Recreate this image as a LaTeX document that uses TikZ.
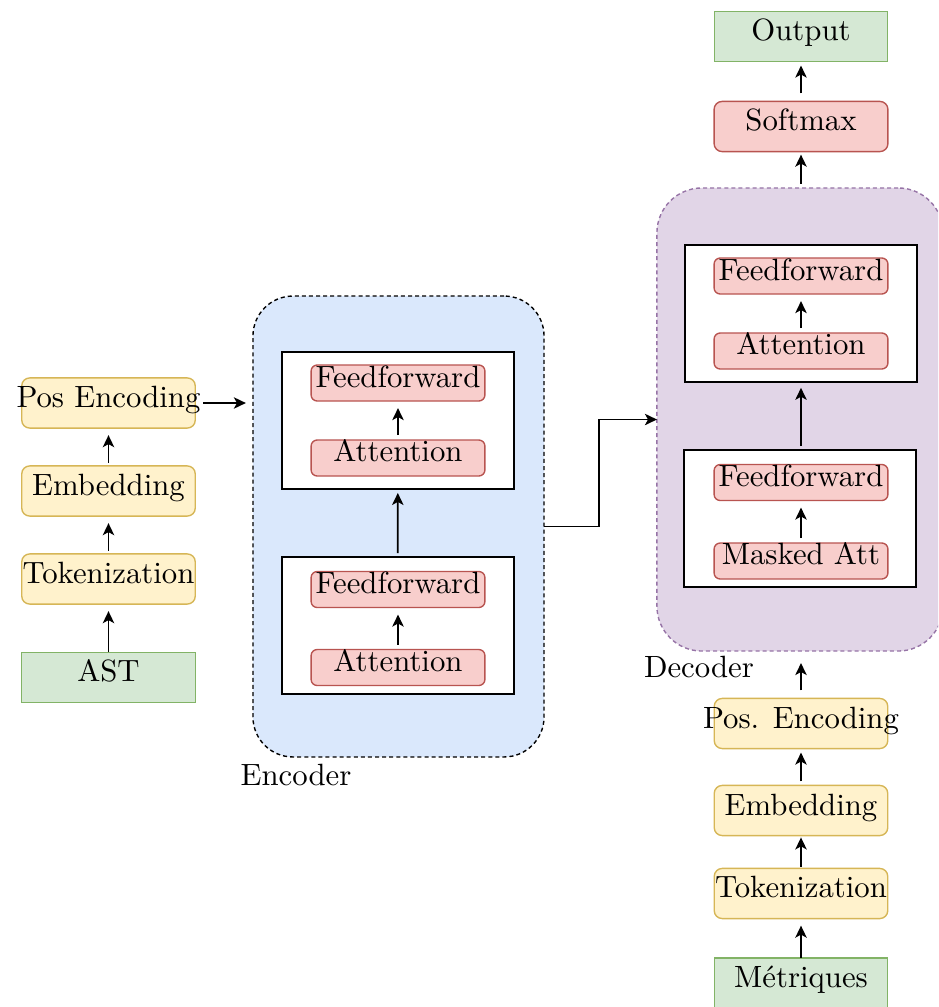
\documentclass[tikz,border=0pt]{standalone}
\usetikzlibrary{arrows.meta}
\definecolor{yfill}{HTML}{FFF2CC}\definecolor{ydraw}{HTML}{D6B656}
\definecolor{rfill}{HTML}{F8CECC}\definecolor{rdraw}{HTML}{B85450}
\definecolor{gfill}{HTML}{D5E8D4}\definecolor{gdraw}{HTML}{82B366}
\definecolor{bfill}{HTML}{DAE8FC}
\definecolor{pfill}{HTML}{E1D5E7}\definecolor{pdraw}{HTML}{9673A6}
\begin{document}
\begin{tikzpicture}[x=0.325pt,y=-0.325pt,
  base/.style={inner sep=0pt, outer sep=0pt},
  lab/.style={inner sep=0pt, anchor=base},
  ybox/.style={base, draw=ydraw, fill=yfill, line width=0.45pt, rounded corners=2.6pt, minimum width=56.4pt, minimum height=16.3pt},
  gbox/.style={base, draw=gdraw, fill=gfill, line width=0.45pt, minimum width=56.4pt, minimum height=16.3pt},
  rbox/.style={base, draw=rdraw, fill=rfill, line width=0.45pt, rounded corners=2pt, minimum width=56.5pt, minimum height=11.7pt},
  wbox/.style={base, draw=black, fill=white, line width=0.65pt, minimum width=75.4pt, minimum height=44.5pt},
  arr/.style={line width=0.6pt, -{Stealth[length=3.9pt,width=3.7pt,inset=1pt]}},
]
\useasboundingbox (0,0) rectangle (938,1007);
\clip (0,0) rectangle (938,1007);

% containers
\node[base, draw=black, fill=bfill, line width=0.45pt, dash pattern=on 1.3pt off 1pt,
  rounded corners=13pt, minimum width=94.6pt, minimum height=149.8pt] (enc) at (398.5,526.5) {};
\node[base, draw=pdraw, fill=pfill, line width=0.45pt, dash pattern=on 1.3pt off 1pt,
  rounded corners=14.6pt, minimum width=93pt, minimum height=150.5pt] (dec) at (800,419.5) {};
\node[lab] (enclab) at (296,785) {Encoder};
\node[lab] (declab) at (699,677) {Decoder};

% left column
\node[ybox] (pe) at (108.5,403) {};
\node[ybox] (em) at (108.5,491) {};
\node[ybox] (tk) at (108.5,579) {};
\node[gbox] (ast) at (108.5,677.5) {};
\node[lab] at ([yshift=-1.5pt]pe.center) {Pos Encoding};
\node[lab] at ([yshift=-1.6pt]em.center) {Embedding};
\node[lab] at ([yshift=-1.3pt]tk.center) {Tokenization};
\node[lab] at ([yshift=-1.4pt]ast.center) {AST};

% encoder blocks
\node[wbox] (eb1) at (398,420.5) {};
\node[wbox] (eb2) at (397.5,625.5) {};
\node[rbox] (eff1) at (398,383) {};
\node[rbox] (eat1) at (398,458) {};
\node[rbox] (eff2) at (398,589.5) {};
\node[rbox] (eat2) at (398,667.5) {};
\node[lab] at ([yshift=-1.3pt]eff1.center) {Feedforward};
\node[lab] at ([yshift=-1.2pt]eat1.center) {Attention};
\node[lab] at ([yshift=-1.3pt]eff2.center) {Feedforward};
\node[lab] at ([yshift=-1.2pt]eat2.center) {Attention};

% decoder blocks
\node[wbox] (db1) at (801,313.5) {};
\node[wbox] (db2) at (799.5,518.5) {};
\node[rbox] (dff1) at (801,276) {};
\node[rbox] (dat1) at (801,351) {};
\node[rbox] (dff2) at (801,482.5) {};
\node[rbox] (dma) at (801,561) {};
\node[lab] at ([yshift=-1.3pt]dff1.center) {Feedforward};
\node[lab] at ([yshift=-1.2pt]dat1.center) {Attention};
\node[lab] at ([yshift=-1.3pt]dff2.center) {Feedforward};
\node[lab] at ([yshift=-1.2pt]dma.center) {Masked Att};

% right column
\node[gbox] (out) at (801,36.5) {};
\node[rbox, minimum height=16.3pt, rounded corners=2.6pt] (sm) at (801,126.5) {};
\node[ybox] (pe2) at (801,723.5) {};
\node[ybox] (em2) at (801,810.5) {};
\node[ybox] (tk2) at (801,893.5) {};
\node[gbox] (met) at (801,983) {};
\node[lab] at ([yshift=-1.4pt]out.center) {Output};
\node[lab] at ([yshift=-1.4pt]sm.center) {Softmax};
\node[lab] at ([yshift=-1.5pt]pe2.center) {Pos. Encoding};
\node[lab] at ([yshift=-1.6pt]em2.center) {Embedding};
\node[lab] at ([yshift=-1.3pt]tk2.center) {Tokenization};
\node[lab] at ([yshift=-1.4pt]met.center) {Métriques};

% arrows left
\draw[arr, shorten <=1pt, shorten >=2.3pt] (em) -- (pe);
\draw[arr, shorten <=1pt, shorten >=2.3pt] (tk) -- (em);
\draw[arr, shorten <=0pt, shorten >=2.3pt] (ast) -- (tk);
\draw[arr, shorten <=2.6pt, shorten >=2.3pt] (pe.east) -- (pe.east -| enc.west);

% encoder arrows
\draw[arr, shorten <=1.6pt, shorten >=2.3pt] (eat1) -- (eff1);
\draw[arr, shorten <=1.6pt, shorten >=2.3pt] (eat2) -- (eff2);
\draw[arr, shorten <=1.3pt, shorten >=1.3pt] (eb2) -- (eb1);
\draw[arr] (enc.east) -- ++(55,0) |- (dec.west);

% decoder arrows
\draw[arr, shorten <=1.6pt, shorten >=2.3pt] (dat1) -- (dff1);
\draw[arr, shorten <=1.6pt, shorten >=2.3pt] (dma) -- (dff2);
\draw[arr, shorten <=1.3pt, shorten >=1.9pt] (db2.north -| db1.south) -- (db1.south);
\draw[arr, shorten <=1.3pt, shorten >=1pt] (dec.north -| sm.south) -- (sm.south);
\draw[arr, shorten <=2.6pt, shorten >=1.3pt] (sm) -- (out);

% right column arrows
\draw[arr, shorten <=2.6pt, shorten >=3.9pt] (pe2.north) -- (pe2.north |- dec.south);
\draw[arr, shorten <=1.3pt, shorten >=1.3pt] (em2) -- (pe2);
\draw[arr, shorten <=0.6pt, shorten >=0.6pt] (tk2) -- (em2);
\draw[arr, shorten <=0pt, shorten >=2.3pt] (met) -- (tk2);
\end{tikzpicture}
\end{document}
